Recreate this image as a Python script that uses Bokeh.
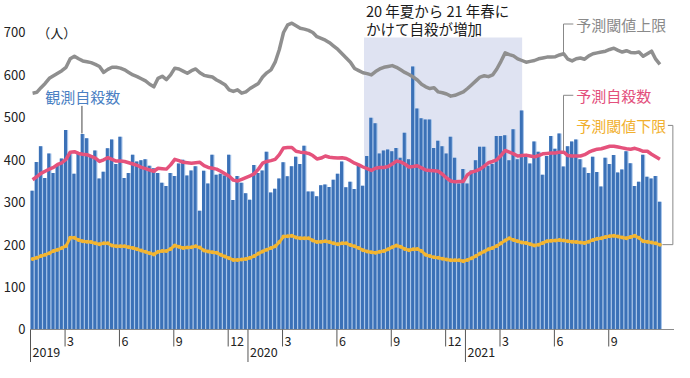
from bokeh.plotting import figure
from bokeh.models import Range1d
from bokeh.core.properties import value
from bokeh.embed import file_html
from bokeh.resources import INLINE

# ---- data (weekly, Jan 2019 - Nov 2021) ----
observed = [
    327, 395, 432, 357, 415, 369, 390, 403, 470, 417, 367, 417, 461, 451, 411, 422, 356, 372, 427, 448,
    390, 454, 357, 369, 412, 396, 399, 401, 386, 380, 369, 346, 338, 369, 362, 391, 400, 363, 375, 385,
    280, 374, 344, 412, 365, 367, 363, 412, 305, 362, 346, 321, 306, 388, 369, 375, 419, 323, 332, 356,
    394, 361, 385, 407, 390, 433, 325, 325, 314, 340, 342, 336, 353, 367, 396, 335, 348, 331, 388, 339,
    409, 499, 486, 415, 422, 424, 420, 428, 405, 464, 401, 620, 521, 498, 495, 495, 428, 445, 432, 415,
    454, 405, 344, 378, 344, 375, 399, 431, 431, 386, 390, 456, 456, 458, 399, 472, 401, 516, 407, 391,
    443, 419, 365, 409, 456, 426, 462, 384, 432, 443, 448, 401, 382, 369, 407, 371, 337, 405, 390, 411,
    370, 377, 420, 392, 338, 348, 412, 360, 356, 362, 301]

predicted = [
    353, 360, 368, 373, 378, 382, 389, 393, 401, 418, 419, 415, 413, 412, 408, 404, 396, 400, 405, 401,
    397, 397, 396, 393, 390, 387, 382, 379, 376, 373, 380, 379, 378, 388, 401, 398, 394, 393, 392, 393,
    394, 386, 382, 380, 378, 373, 367, 361, 352, 350, 354, 358, 362, 367, 378, 392, 396, 398, 401, 412,
    428, 429, 429, 420, 418, 417, 415, 410, 402, 404, 409, 406, 405, 404, 405, 403, 398, 392, 388, 383,
    379, 375, 380, 382, 382, 384, 390, 397, 395, 390, 383, 384, 386, 381, 376, 375, 374, 373, 366, 357,
    350, 348, 349, 349, 365, 371, 374, 378, 385, 393, 396, 400, 410, 422, 418, 414, 409, 410, 411, 409,
    407, 410, 414, 415, 416, 416, 418, 418, 410, 409, 409, 409, 412, 418, 422, 425, 426, 429, 432, 432,
    430, 428, 426, 425, 427, 424, 420, 420, 413, 407, 401]

upper = [
    557, 559, 570, 580, 592, 598, 604, 610, 618, 638, 644, 638, 633, 631, 629, 625, 620, 606, 613, 618,
    618, 616, 612, 606, 600, 596, 591, 586, 578, 572, 592, 597, 589, 600, 616, 614, 609, 604, 610, 614,
    605, 599, 597, 595, 588, 583, 577, 565, 561, 565, 557, 560, 568, 574, 580, 595, 605, 612, 630, 660,
    700, 718, 722, 716, 710, 708, 705, 700, 690, 686, 682, 676, 668, 660, 650, 640, 630, 615, 610, 605,
    603, 600, 608, 614, 618, 620, 622, 618, 612, 606, 601, 595, 588, 578, 572, 568, 570, 560, 558, 555,
    550, 552, 556, 560, 568, 577, 586, 595, 598, 596, 600, 614, 632, 652, 648, 645, 638, 634, 630, 632,
    634, 638, 640, 642, 642, 643, 647, 650, 637, 633, 638, 640, 637, 645, 650, 652, 654, 656, 660, 663,
    658, 654, 657, 653, 652, 654, 644, 650, 656, 637, 625]

lower = [
    166, 169, 173, 176, 180, 185, 188, 192, 197, 216, 216, 211, 208, 207, 206, 203, 201, 203, 203, 198,
    196, 196, 196, 194, 192, 189, 186, 183, 180, 177, 183, 185, 185, 190, 198, 195, 192, 193, 194, 196,
    193, 186, 184, 182, 181, 176, 172, 168, 164, 164, 165, 166, 169, 173, 179, 184, 188, 192, 196, 206,
    219, 220, 221, 217, 215, 215, 215, 210, 206, 207, 208, 206, 203, 201, 203, 203, 199, 196, 192, 187,
    184, 182, 181, 183, 185, 189, 194, 198, 195, 190, 187, 189, 190, 185, 176, 173, 170, 169, 167, 165,
    163, 163, 163, 161, 164, 168, 173, 179, 184, 189, 192, 197, 203, 210, 215, 211, 208, 205, 204, 201,
    198, 200, 204, 208, 209, 210, 211, 210, 208, 207, 206, 205, 204, 207, 211, 214, 215, 218, 220, 221,
    219, 217, 215, 218, 221, 216, 208, 207, 205, 203, 200]

years = ["2019", "2020", "2021"]
year_start_week = [0, 52, 104]
months = [3, 6, 9, 12]
y_ticks = [0, 100, 200, 300, 400, 500, 600, 700]

# surge period (weeks): summer 2020 -> spring 2021
shade_start, shade_end, shade_top = 79.75, 117.56, 688

JP = value("Noto Sans CJK JP")
xs = [i + 0.5 for i in range(len(observed))]

p = figure(width=674, height=362, output_backend="svg", toolbar_location=None,
           x_range=Range1d(-7.174, 153.99), y_range=Range1d(-77.78, 775.42),
           x_axis_location=None, y_axis_location=None, min_border=0,
           outline_line_color=None, background_fill_color="white")
p.grid.visible = False

# shaded period
p.quad(left=[shade_start], right=[shade_end], bottom=[0], top=[shade_top],
       fill_color="#dfe3f2", line_color=None)

# bars
p.vbar(x=xs, top=observed, width=1.0, bottom=0, fill_color="#a9c6ea", line_color=None)
p.vbar(x=[x - 0.13 for x in xs], top=observed, width=0.72, bottom=0,
       fill_color="#3b71b7", line_color=None)

# lines
p.line(xs, upper, line_color="#8f8f8f", line_width=3.5, line_join="round")
p.line(xs, lower, line_color="#f3b531", line_width=3, line_join="round")
p.scatter(xs, lower, size=4, fill_color="#f3b531", line_color=None)
p.line(xs, predicted, line_color="#e5527c", line_width=3.5, line_join="round")

# baseline
p.segment(x0=[0], y0=[0], x1=[154], y1=[0], line_color="#8a8a8a", line_width=1)

# x ticks (months, years)
mx, ml = [], []
for ys, yr in zip(year_start_week, years):
    for m in months:
        if yr == "2021" and m == 12:
            continue
        mx.append(ys + (m - 1) * 52 / 12 - 0.4)
        ml.append(str(m))
p.segment(x0=mx, y0=[0] * len(mx), x1=mx, y1=[-40] * len(mx), line_color="#555555", line_width=1)
p.segment(x0=year_start_week, y0=[0] * 3, x1=year_start_week, y1=[-90] * 3,
          line_color="#555555", line_width=1)
p.text(x=mx, y=[-27] * len(mx), text=ml, x_offset=2, text_align="left", text_baseline="middle",
       text_font=JP, text_font_size="12.5px", text_color="#222222")
p.text(x=year_start_week, y=[-54] * 3, text=years, x_offset=2, text_align="left",
       text_baseline="middle", text_font=JP, text_font_size="12.5px", text_color="#222222")

# y tick labels
p.text(x=[0] * len(y_ticks), y=y_ticks, text=[str(v) for v in y_ticks], x_offset=-5,
       text_align="right", text_baseline="middle", text_font=JP, text_font_size="13px",
       text_color="#222222")
p.text(x=[1.6], y=[700], text=["（人）"], text_align="left", text_baseline="middle",
       text_font=JP, text_font_size="13px", text_color="#222222")

# annotation of surge period
p.text(x=[80.2, 80.2], y=[751, 709], text=["20 年夏から 21 年春に", "かけて自殺が増加"],
       text_align="left", text_baseline="middle", text_font=JP, text_font_size="14.5px",
       text_color="#1a1a1a")

# series labels
p.text(x=[3.5], y=[549], text=["観測自殺数"], text_align="left", text_baseline="middle",
       text_font=JP, text_font_size="15px", text_color="#4a80c3")
p.segment(x0=[12.3], y0=[527], x1=[12.3], y1=[462], line_color="#444444", line_width=1)

p.text(x=[130.5], y=[720], text=["予測閾値上限"], text_align="left", text_baseline="middle",
       text_font=JP, text_font_size="15px", text_color="#8a8a8a")
p.segment(x0=[127.45, 127.45], y0=[720, 720], x1=[129.8, 127.45], y1=[720, 650],
          line_color="#888888", line_width=1)

p.text(x=[130.5], y=[552], text=["予測自殺数"], text_align="left", text_baseline="middle",
       text_font=JP, text_font_size="15px", text_color="#e3507c")
p.segment(x0=[127.45, 127.45], y0=[552, 552], x1=[129.8, 127.45], y1=[552, 420],
          line_color="#888888", line_width=1)

p.text(x=[130.5], y=[481], text=["予測閾値下限"], text_align="left", text_baseline="middle",
       text_font=JP, text_font_size="15px", text_color="#f1b02e")
p.segment(x0=[152.4, 153.6, 153.6], y0=[481, 481, 200], x1=[153.6, 153.6, 151.1],
          y1=[481, 200, 200], line_color="#888888", line_width=1)

open("out.html", "w").write(file_html(p, INLINE))
